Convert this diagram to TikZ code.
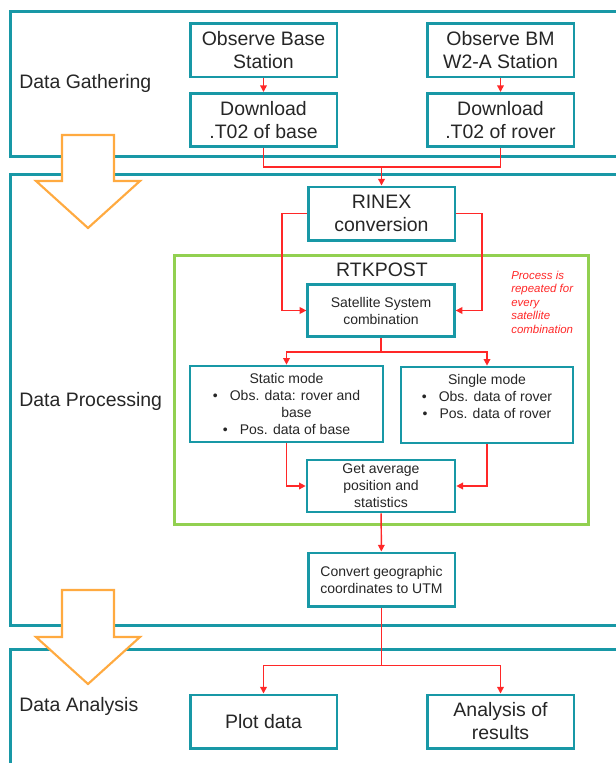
\documentclass[tikz,border=0pt]{standalone}
\usepackage{fontspec}
\setmainfont{Liberation Sans}
\usetikzlibrary{arrows.meta, positioning}

\definecolor{stageteal}{RGB}{24,152,166}
\definecolor{rtkgreen}{RGB}{146,208,80}
\definecolor{flowred}{RGB}{255,40,40}
\definecolor{hintorange}{RGB}{255,170,64}
\definecolor{inktext}{RGB}{38,38,38}

\begin{document}
\begin{tikzpicture}[x=0.75pt, y=-0.75pt,
        stage/.style={draw=stageteal, line width=2pt},
        box/.style={draw=stageteal, line width=2pt, fill=white, text=inktext,
            minimum width=110pt, minimum height=40pt, align=center, inner sep=2pt,
            font=\fontsize{14.6pt}{17.25pt}\selectfont},
        smallbox/.style={box, font=\fontsize{10.5pt}{12.75pt}\selectfont},
        stagelabel/.style={anchor=west, inner sep=0pt, text=inktext,
            font=\fontsize{14.6pt}{17.25pt}\selectfont},
        link/.style={draw=flowred, line width=1.1pt},
        flow/.style={link, -{Triangle[length=5pt,width=5pt]}},
        bigarrow/.style={draw=hintorange, line width=1.6pt, fill=white, line join=miter}]
    \clip (0,0) rectangle (616,763);

    % stages
    \draw[stage] (10.5,11.5) rectangle (650,156.5);
    \draw[stage] (10.5,174.5) rectangle (650,625.5);
    \draw[stage] (10.5,649.5) rectangle (650,800);
    \node[stagelabel] (gather) at (19,83) {Data Gathering};
    \node[stagelabel] (process) at (19,401) {Data Processing};
    \node[stagelabel] (analyse) at (19,706) {Data Analysis};

    % hollow arrows between stages
    \draw[bigarrow] (62,135) -- (114,135) -- (114,181) -- (140,181) -- (88,228)
        -- (36,181) -- (62,181) -- cycle;
    \draw[bigarrow] (62,590) -- (114,590) -- (114,637) -- (140,637) -- (88,684)
        -- (36,637) -- (62,637) -- cycle;

    % data gathering
    \node[box] (obase) at (263.5,50.5) {Observe Base\\Station};
    \node[box] (orover) at (500.5,50.5) {Observe BM\\W2-A Station};
    \node[box] (dbase) at (263.5,120) {Download\\.T02 of base};
    \node[box] (drover) at (500.5,120) {Download\\.T02 of rover};
    \draw[flow] (obase) -- (dbase);
    \draw[flow] (orover) -- (drover);

    % data processing
    \node[box] (rinex) at (381.5,213.5) {RINEX\\conversion};
    \coordinate (merge) at (381.5,167);
    \draw[link] (dbase.south) |- (merge);
    \draw[link] (drover.south) |- (merge);
    \draw[flow] (merge) -- (rinex);

    \draw[rtkgreen, line width=1.8pt] (174.5,255.5) rectangle (588.5,524.5);
    \node[inner sep=0pt, text=inktext, font=\fontsize{14.6pt}{17.25pt}\selectfont]
        (rtk) at (382,270) {RTKPOST};
    \node[anchor=west, align=left, inner sep=0pt, text=flowred,
        font=\fontsize{8.6pt}{10.1pt}\selectfont\itshape]
        (repeat) at (511,302) {Process is\\repeated for\\every\\satellite\\combination};

    \node[smallbox, minimum width=110pt, minimum height=39pt] (sat) at (381,310.5)
        {Satellite System\\combination};
    \draw[flow] (rinex.west) -- ++(-25,0) |- (sat.west);
    \draw[flow] (rinex.east) -- ++(26,0) |- (sat.east);

    \node[smallbox, minimum width=144.75pt, minimum height=57pt] (static) at (286.5,404)
        {Static mode\\\textbullet\hspace{9pt}Obs. data: rover and\\\hspace*{15pt}base\\
        \textbullet\hspace{9pt}Pos. data of base};
    \node[smallbox, minimum width=129pt, minimum height=57pt] (single) at (487,405)
        {Single mode\\\textbullet\hspace{9pt}Obs. data of rover\\
        \textbullet\hspace{9pt}Pos. data of rover\\~};
    \draw[link] (sat.south) -- ++(0,14) coordinate (split);
    \draw[flow] (split) -| (static.north);
    \draw[flow] (split) -| (single.north);

    \node[smallbox, minimum width=111pt, minimum height=39pt] (avg) at (381,486)
        {Get average\\position and\\statistics};
    \draw[flow] (static.south) |- (avg.west);
    \draw[flow] (single.south) |- (avg.east);

    \node[smallbox, minimum width=110pt, minimum height=40pt] (utm) at (381.5,579.5)
        {Convert geographic\\coordinates to UTM};
    \draw[flow] (avg) -- (utm);

    % data analysis
    \node[box] (plot) at (263.5,721.5) {Plot data};
    \node[box] (results) at (500.5,721.5) {Analysis of\\results};
    \draw[link] (utm.south) -- ++(0,58) coordinate (fork);
    \draw[flow] (fork) -| (plot.north);
    \draw[flow] (fork) -| (results.north);
\end{tikzpicture}
\end{document}
